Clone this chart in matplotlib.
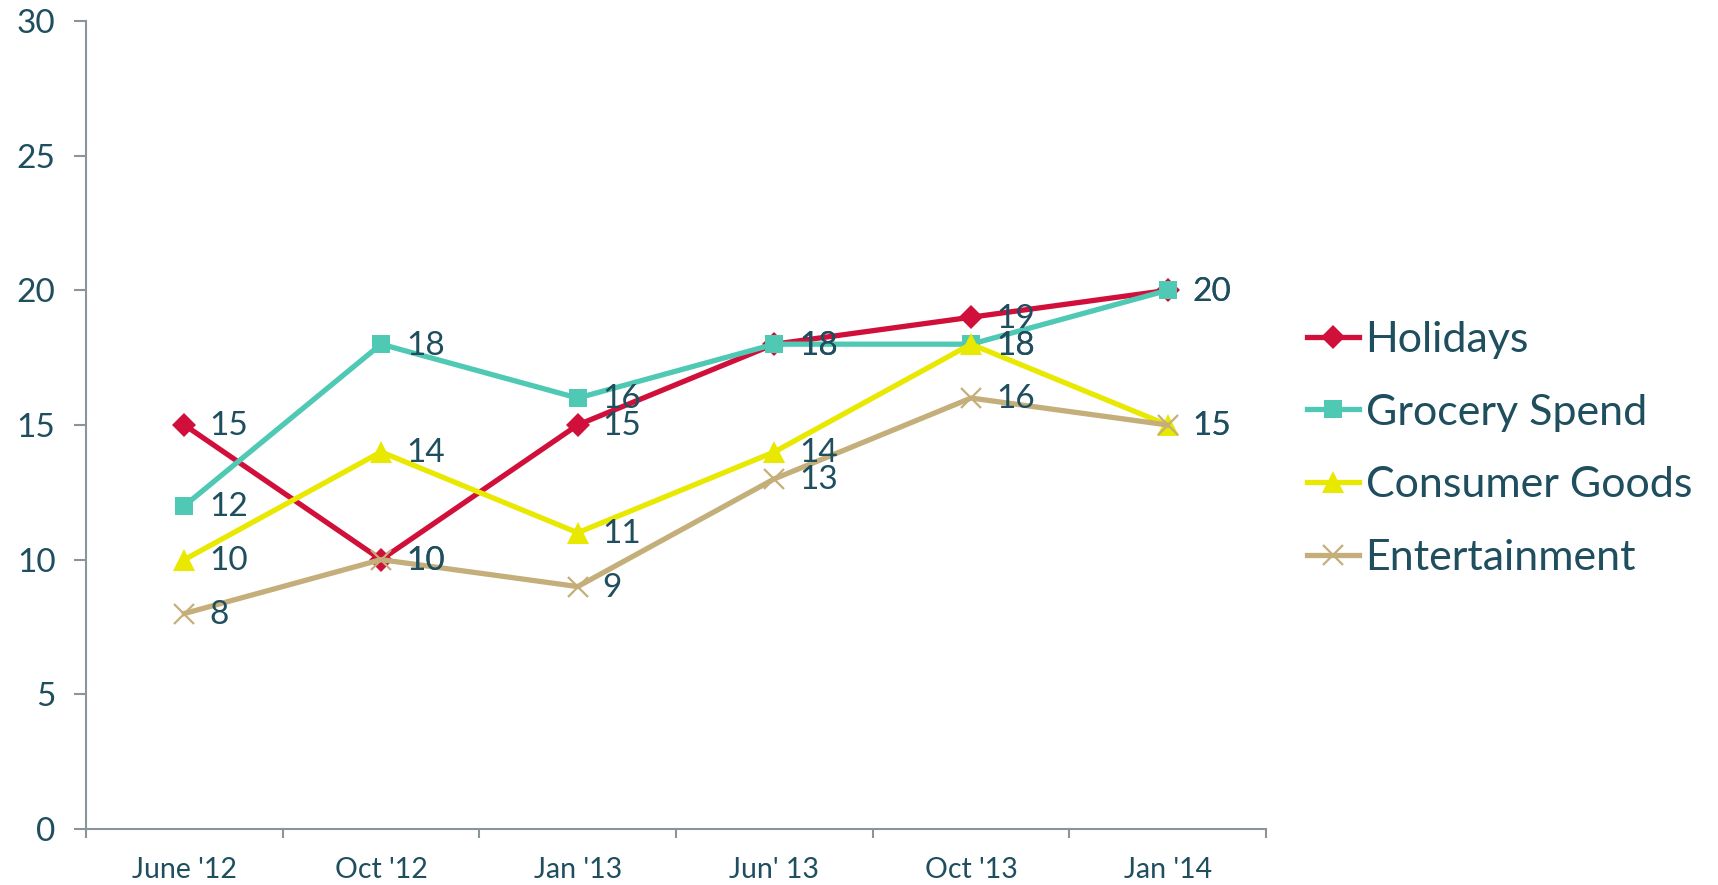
import matplotlib
matplotlib.use("Agg")
import matplotlib.pyplot as plt

# data
categories = ["June '12", "Oct '12", "Jan '13", "Jun' 13", "Oct '13", "Jan '14"]
holidays = [15, 10, 15, 18, 19, 20]
grocery = [12, 18, 16, 18, 18, 20]
consumer = [10, 14, 11, 14, 18, 15]
entertainment = [8, 10, 9, 13, 16, 15]
y_ticks = [0, 5, 10, 15, 20, 25, 30]

TEXT = "#1F4E5E"
AXIS = "#8A959B"

plt.rcParams["font.family"] = ["Lato", "DejaVu Sans"]

fig = plt.figure(figsize=(17.18, 8.85), dpi=100)
ax = fig.add_axes([0.0501, 0.0633, 0.6868, 0.9130])

x = list(range(len(categories)))
series = [
    ("Holidays", holidays, "#D0103A", "D", 12, 2),
    ("Grocery Spend", grocery, "#4FC9B4", "s", 13, 3),
    ("Consumer Goods", consumer, "#E8E800", "^", 16, 4),
    ("Entertainment", entertainment, "#C4AF7A", "x", 15, 5),
]
for name, vals, col, mk, ms, z in series:
    ax.plot(x, vals, color=col, linewidth=3.8, marker=mk, markersize=ms,
            markeredgewidth=1.6 if mk == "x" else 0, markerfacecolor=col,
            markeredgecolor=col, label=name, zorder=z)
    for xi, v in zip(x, vals):
        ax.annotate(str(v), (xi, v), xytext=(18, -1), textcoords="offset points",
                    ha="left", va="center", fontsize=24, color=TEXT, zorder=10)

ax.set_xlim(-0.5, len(categories) - 0.5)
ax.set_ylim(0, 30)
ax.set_yticks(y_ticks)
ax.set_xticks(x)
ax.set_xticklabels(categories)
ax.set_xticks([i + 0.5 for i in range(-1, len(categories))], minor=True)

for side in ["top", "right"]:
    ax.spines[side].set_visible(False)
for side in ["left", "bottom"]:
    ax.spines[side].set_color(AXIS)
    ax.spines[side].set_linewidth(1.5)

ax.tick_params(axis="y", colors=AXIS, labelcolor=TEXT, labelsize=24,
               length=9, width=1.5, pad=13)
ax.tick_params(axis="x", which="major", length=0, labelcolor=TEXT,
               labelsize=20.5, pad=20)
ax.tick_params(axis="x", which="minor", colors=AXIS, length=6.5, width=1.5)

fig.legend(loc="center left", bbox_to_anchor=(0.7605, 0.4927), frameon=False,
           fontsize=31, labelcolor=TEXT, handlelength=1.22, handletextpad=0.15,
           labelspacing=0.81, borderaxespad=0, borderpad=0)

fig.savefig("out.png", dpi=100)
